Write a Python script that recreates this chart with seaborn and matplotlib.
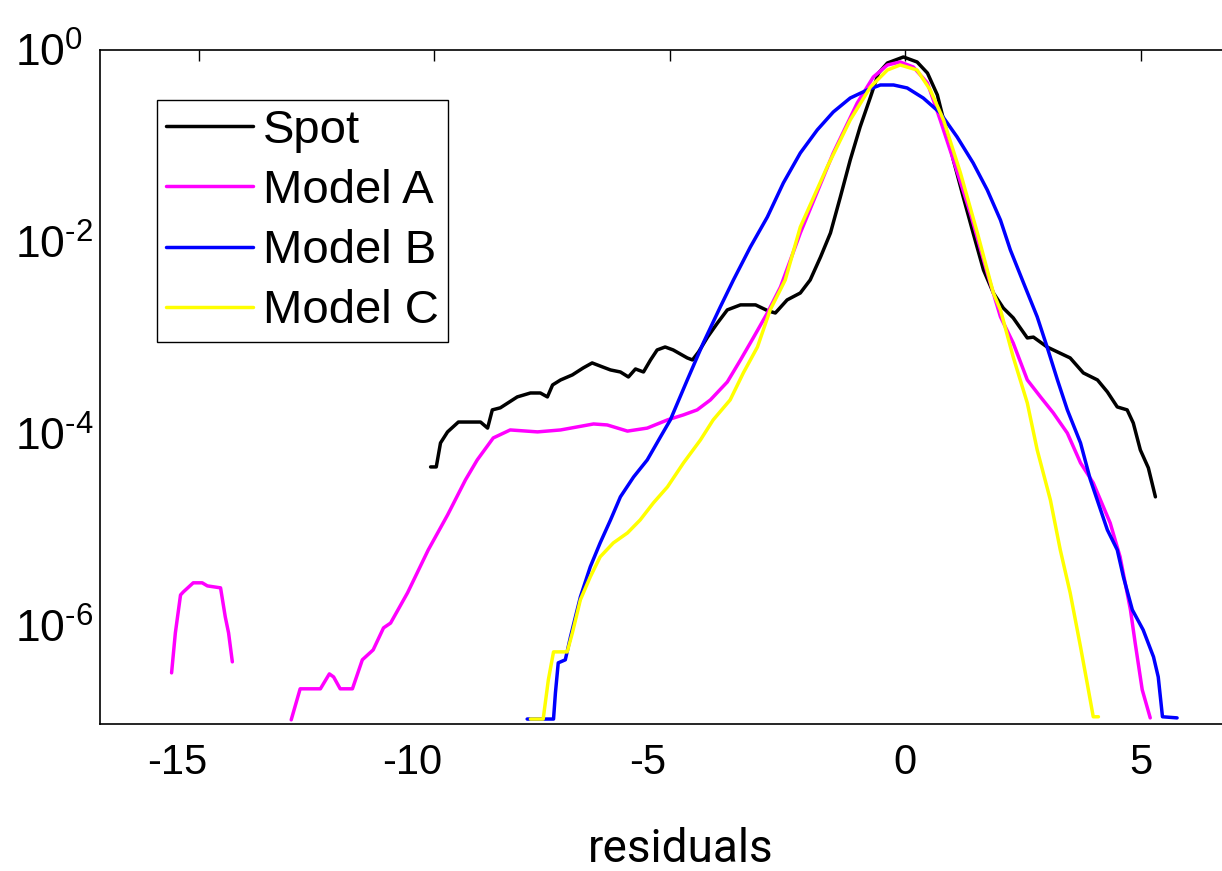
import numpy as np
import pandas as pd
import matplotlib
matplotlib.use("Agg")
import matplotlib.pyplot as plt
import matplotlib.transforms as mtransforms
import seaborn as sns

# ---------------- data ----------------
spot_x = [-10.08, -9.96, -9.87, -9.72, -9.49, -9.02, -8.87, -8.77, -8.60, -8.24,
          -7.96, -7.75, -7.60, -7.49, -7.32, -7.07, -6.84, -6.65, -6.43, -6.26,
          -6.05, -5.88, -5.73, -5.56, -5.41, -5.27, -5.10, -4.93, -4.63, -4.52,
          -4.39, -4.20, -3.99, -3.78, -3.50, -3.18, -2.91, -2.76, -2.51, -2.23,
          -2.02, -1.80, -1.59, -1.38, -1.17, -0.96, -0.74, -0.57, -0.38, -0.04,
          0.25, 0.47, 0.68, 0.85, 1.02, 1.23, 1.44, 1.66, 1.87, 2.08,
          2.29, 2.59, 2.72, 3.01, 3.23, 3.50, 3.78, 4.08, 4.29, 4.50,
          4.71, 4.84, 4.99, 5.16, 5.31]
spot_y = [4.53e-5, 4.53e-5, 8.05e-5, 1.05e-4, 1.33e-4, 1.33e-4, 1.15e-4, 1.78e-4, 1.87e-4, 2.43e-4,
          2.67e-4, 2.67e-4, 2.43e-4, 3.24e-4, 3.65e-4, 4.12e-4, 4.87e-4, 5.49e-4, 4.99e-4, 4.64e-4,
          4.42e-4, 3.92e-4, 4.75e-4, 4.42e-4, 5.90e-4, 7.50e-4, 8.05e-4, 7.50e-4, 6.19e-4, 5.90e-4,
          7.15e-4, 1.02e-3, 1.43e-3, 1.96e-3, 2.21e-3, 2.21e-3, 1.91e-3, 1.82e-3, 2.49e-3, 2.94e-3,
          4.02e-3, 6.98e-3, 1.24e-2, 2.94e-2, 7.15e-2, 0.158, 0.324, 0.575, 0.732, 0.846,
          0.75, 0.575, 0.340, 0.158, 7.15e-2, 2.94e-2, 1.24e-2, 5.1e-3, 2.94e-3, 2.05e-3,
          1.62e-3, 1.0e-3, 1.02e-3, 8.05e-4, 7.15e-4, 6.19e-4, 4.32e-4, 3.65e-4, 2.74e-4, 1.91e-4,
          1.78e-4, 1.30e-4, 6.81e-5, 4.43e-5, 2.21e-5]

# Model A has an isolated piece near -15 and a main curve
modelA_iso_x = [-15.58, -15.50, -15.39, -15.33, -15.12, -14.93, -14.82, -14.54, -14.44, -14.37, -14.29]
modelA_iso_y = [3.24e-7, 8.45e-7, 2.10e-6, 2.26e-6, 2.81e-6, 2.81e-6, 2.61e-6, 2.49e-6, 1.24e-6, 8.45e-7, 4.22e-7]
modelA_x = [-13.04, -12.85, -12.42, -12.23, -12.14, -12.00, -11.74, -11.53, -11.30, -11.08,
            -10.93, -10.57, -10.13, -9.72, -9.34, -9.09, -8.75, -8.39, -7.81, -7.32,
            -6.62, -6.33, -5.90, -5.48, -5.05, -4.71, -4.42, -4.14, -3.78, -3.50,
            -3.23, -2.93, -2.65, -2.23, -1.53, -1.02, -0.68, -0.38, -0.11, 0.17,
            0.47, 0.74, 1.02, 1.38, 1.74, 2.02, 2.29, 2.59, 2.87, 3.14,
            3.44, 3.72, 3.99, 4.35, 4.56, 4.78, 4.88, 5.03, 5.20]
modelA_y = [1.05e-7, 2.21e-7, 2.21e-7, 3.16e-7, 2.94e-7, 2.21e-7, 2.21e-7, 4.43e-7, 5.62e-7, 9.53e-7,
            1.07e-6, 2.21e-6, 6.19e-6, 1.43e-5, 3.32e-5, 5.36e-5, 9.08e-5, 1.10e-4, 1.05e-4, 1.10e-4,
            1.27e-4, 1.24e-4, 1.07e-4, 1.15e-4, 1.40e-4, 1.58e-4, 1.78e-4, 2.26e-4, 3.48e-4, 5.90e-4,
            1.0e-3, 1.82e-3, 3.40e-3, 1.24e-2, 8.45e-2, 0.281, 0.523, 0.698, 0.75, 0.665,
            0.453, 0.187, 7.15e-2, 2.0e-2, 4.75e-3, 1.66e-3, 8.87e-4, 3.65e-4, 2.43e-4, 1.66e-4,
            1.02e-4, 4.99e-5, 3.09e-5, 1.18e-5, 5.24e-6, 1.47e-6, 6.65e-7, 2.16e-7, 1.10e-7]

modelB_x = [-8.03, -7.60, -7.47, -7.43, -7.37, -7.22, -7.11, -6.90, -6.69, -6.48,
            -6.26, -6.05, -5.77, -5.48, -5.20, -4.99, -4.63, -4.29, -3.93, -3.65,
            -3.29, -2.93, -2.59, -2.23, -1.87, -1.53, -1.17, -0.81, -0.53, -0.25,
            0.04, 0.38, 0.74, 1.10, 1.44, 1.74, 2.02, 2.23, 2.51, 2.80,
            3.01, 3.23, 3.44, 3.72, 3.93, 4.29, 4.50, 4.63, 4.82, 5.05,
            5.27, 5.37, 5.46, 5.77]
modelB_y = [1.07e-7, 1.07e-7, 1.07e-7, 2.0e-7, 4.12e-7, 4.43e-7, 7.68e-7, 2.0e-6, 4.12e-6, 7.32e-6,
            1.27e-5, 2.21e-5, 3.56e-5, 5.36e-5, 9.3e-5, 1.40e-4, 3.65e-4, 8.87e-4, 2.10e-3, 4.02e-3,
            8.87e-3, 1.82e-2, 4.12e-2, 8.45e-2, 0.147, 0.226, 0.316, 0.383, 0.432, 0.432,
            0.402, 0.316, 0.221, 0.124, 6.65e-2, 3.48e-2, 1.69e-2, 8.25e-3, 3.74e-3, 1.66e-3,
            8.05e-4, 3.65e-4, 1.78e-4, 8.05e-5, 3.32e-5, 1.0e-5, 6.19e-6, 3.24e-6, 1.47e-6, 9.08e-7,
            4.75e-7, 2.94e-7, 1.13e-7, 1.10e-7]

modelC_x = [-7.96, -7.69, -7.58, -7.47, -7.18, -7.07, -6.90, -6.69, -6.48, -6.20,
            -5.90, -5.63, -5.35, -5.05, -4.71, -4.35, -4.08, -3.72, -3.44, -3.14,
            -2.87, -2.55, -2.23, -1.66, -1.17, -0.74, -0.38, -0.11, 0.25, 0.53,
            0.81, 1.17, 1.53, 1.87, 2.02, 2.29, 2.59, 2.80, 3.08, 3.29,
            3.50, 3.72, 3.86, 3.99, 4.10]
modelC_y = [1.07e-7, 1.07e-7, 2.74e-7, 5.36e-7, 5.36e-7, 8.45e-7, 1.87e-6, 3.24e-6, 5.24e-6, 7.32e-6,
            9.3e-6, 1.27e-5, 1.91e-5, 2.81e-5, 4.99e-5, 8.66e-5, 1.40e-4, 2.26e-4, 4.32e-4, 8.05e-4,
            1.96e-3, 4.02e-3, 1.43e-2, 6.04e-2, 0.187, 0.412, 0.619, 0.698, 0.619, 0.383,
            0.187, 5.24e-2, 1.24e-2, 2.94e-3, 1.96e-3, 6.34e-4, 2.10e-4, 6.81e-5, 2.05e-5, 6.19e-6,
            2.21e-6, 6.04e-7, 2.55e-7, 1.13e-7, 1.13e-7]

series_labels = ["Spot", "Model A", "Model B", "Model C"]
series_colors = ["#000000", "#FF00FF", "#0000FF", "#FFFF00"]
x_ticks = [-15, -10, -5, 0, 5]
y_ticks = [1e-6, 1e-4, 1e-2, 1e0]
y_tick_labels = [r"$10^{\text{-}6}$", r"$10^{\text{-}4}$", r"$10^{\text{-}2}$", r"$10^{0}$"]
x_label = "residuals"

# ---------------- style ----------------
sns.set_style("white")
plt.rcParams["font.family"] = ["Liberation Sans", "DejaVu Sans"]
plt.rcParams["text.color"] = "black"
plt.rcParams["mathtext.fontset"] = "custom"
plt.rcParams["mathtext.rm"] = "Liberation Sans"
plt.rcParams["mathtext.it"] = "Liberation Sans:italic"
plt.rcParams["mathtext.bf"] = "Liberation Sans:bold"
plt.rcParams["mathtext.default"] = "regular"

fig = plt.figure(figsize=(12.22, 8.71), dpi=100)
ax = fig.add_axes([100 / 1222, 1 - 724 / 871, 1135 / 1222, 674 / 871])

lw = 2.5
sets = [(spot_x, spot_y), (modelA_x, modelA_y), (modelB_x, modelB_y), (modelC_x, modelC_y)]
for (xs, ys), lab, col in zip(sets, series_labels, series_colors):
    df = pd.DataFrame({"x": xs, "y": ys})
    sns.lineplot(data=df, x="x", y="y", ax=ax, color=col, linewidth=lw,
                 label=lab, sort=False, estimator=None)
    if lab == "Model A":
        dfi = pd.DataFrame({"x": modelA_iso_x, "y": modelA_iso_y})
        sns.lineplot(data=dfi, x="x", y="y", ax=ax, color=col, linewidth=lw,
                     label="_nolegend_", sort=False, estimator=None)

ax.set_yscale("log")
ax.set_xlim(-17.1, 7.0)
ax.set_ylim(9.5e-8, 1.0)
ax.set_xticks(x_ticks)
ax.set_xticklabels([str(t) for t in x_ticks])
ax.set_yticks(y_ticks)
ax.set_yticklabels(y_tick_labels)
ax.minorticks_off()
ax.yaxis.set_minor_locator(matplotlib.ticker.NullLocator())
ax.tick_params(axis="both", which="major", direction="in", length=8, width=1,
               top=True, right=True, color="black", labelcolor="black")
ax.tick_params(axis="x", pad=14, labelsize=30)
ax.tick_params(axis="y", pad=61, labelsize=32)
for lab in ax.get_yticklabels():
    lab.set_horizontalalignment("left")
# negative x labels sit a little left of their ticks in the reference
for lab, t in zip(ax.get_xticklabels(), x_ticks):
    if t < 0:
        lab.set_transform(lab.get_transform() +
                          mtransforms.ScaledTranslation(-22 / 100, 0, fig.dpi_scale_trans))
for s in ax.spines.values():
    s.set_color("black")
    s.set_linewidth(1.2)
    s.set_visible(True)
ax.set_xlabel("")
ax.set_ylabel("")

fig.text(681 / 1222, 1 - 862 / 871, x_label, ha="center", va="baseline",
         fontsize=33, family=["Roboto", "DejaVu Sans"], color="black")

leg = ax.legend(loc="upper left", bbox_to_anchor=(57 / 1135, (724 - 100) / 674),
                borderaxespad=0, fontsize=34, frameon=True, fancybox=False,
                framealpha=1, edgecolor="black", handlelength=1.85, handletextpad=0.21,
                labelspacing=0.34, borderpad=0.19)
leg.get_frame().set_linewidth(1.0)
for t in leg.get_texts():
    t.set_color("black")

fig.savefig("out.png", dpi=100)
